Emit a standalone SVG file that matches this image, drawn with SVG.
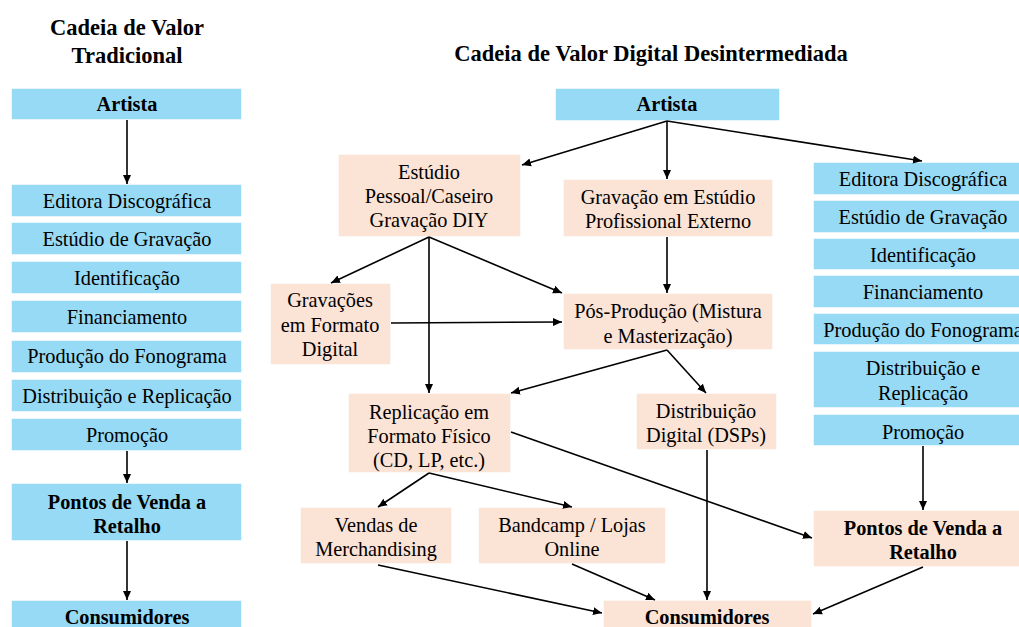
<svg xmlns="http://www.w3.org/2000/svg" width="1019" height="627" viewBox="0 0 1019 627">
  <defs>
    <marker id="arrow" markerUnits="userSpaceOnUse" markerWidth="10" markerHeight="10" refX="9" refY="5" orient="auto">
      <path d="M0,1 L9,5 L0,9 z" fill="#000"/>
    </marker>
    <style>
      text { font-family: "Liberation Serif", "Times New Roman", serif; font-size: 20.3px; fill: #000; text-anchor: middle; }
      .b { font-weight: bold; }
      .title { font-weight: bold; font-size: 22.5px; }
      .blue { fill: #97DAF6; stroke: #ffffff; stroke-width: 1.5; }
      .peach { fill: #FBE3D6; stroke: #ffffff; stroke-width: 1.5; }
      .conn line { stroke: #000; stroke-width: 1.6; marker-end: url(#arrow); }
    </style>
  </defs>
  <rect width="1019" height="627" fill="#ffffff"/>

  <!-- headings -->
  <text class="title" x="127" y="35">Cadeia de Valor</text>
  <text class="title" x="127" y="63">Tradicional</text>
  <text class="title" x="651" y="61">Cadeia de Valor Digital Desintermediada</text>

  <!-- traditional chain -->
  <g id="t-artista"><rect class="blue" x="11" y="88" width="231" height="32"/><text class="b" x="127" y="111">Artista</text></g>
  <g id="t-editora"><rect class="blue" x="11" y="184" width="231" height="33"/><text x="127" y="208">Editora Discográfica</text></g>
  <g id="t-estudio"><rect class="blue" x="11" y="222" width="231" height="33"/><text x="127" y="246">Estúdio de Gravação</text></g>
  <g id="t-ident"><rect class="blue" x="11" y="261" width="231" height="33"/><text x="127" y="285">Identificação</text></g>
  <g id="t-financ"><rect class="blue" x="11" y="300" width="231" height="33"/><text x="127" y="324">Financiamento</text></g>
  <g id="t-producao"><rect class="blue" x="11" y="340" width="231" height="33"/><text x="127" y="363">Produção do Fonograma</text></g>
  <g id="t-distrib"><rect class="blue" x="11" y="379" width="231" height="33"/><text x="127" y="403">Distribuição e Replicação</text></g>
  <g id="t-promocao"><rect class="blue" x="11" y="418" width="231" height="33"/><text x="127" y="442">Promoção</text></g>
  <g id="t-pontos"><rect class="blue" x="11" y="483" width="231" height="58"/><text class="b" x="127" y="509">Pontos de Venda a</text><text class="b" x="127" y="533">Retalho</text></g>
  <g id="t-consum"><rect class="blue" x="11" y="600" width="231" height="32"/><text class="b" x="127" y="624">Consumidores</text></g>

  <!-- disintermediated digital chain -->
  <g id="d-artista"><rect class="blue" x="555" y="88" width="225" height="33"/><text class="b" x="667" y="111">Artista</text></g>
  <g id="d-diy"><rect class="peach" x="338" y="154" width="183" height="83"/><text x="429" y="179">Estúdio</text><text x="429" y="203">Pessoal/Caseiro</text><text x="429" y="227">Gravação DIY</text></g>
  <g id="d-pro"><rect class="peach" x="563" y="179" width="210" height="58"/><text x="668" y="204">Gravação em Estúdio</text><text x="668" y="228">Profissional Externo</text></g>
  <g id="d-digrec"><rect class="peach" x="270" y="283" width="121" height="82"/><text x="330" y="307">Gravações</text><text x="330" y="332">em Formato</text><text x="330" y="356">Digital</text></g>
  <g id="d-pos"><rect class="peach" x="563" y="293" width="210" height="57"/><text x="668" y="318">Pós-Produção (Mistura</text><text x="668" y="343">e Masterização)</text></g>
  <g id="d-replic"><rect class="peach" x="348" y="393" width="163" height="80"/><text x="429" y="419">Replicação em</text><text x="429" y="443">Formato Físico</text><text x="429" y="467">(CD, LP, etc.)</text></g>
  <g id="d-dsp"><rect class="peach" x="636" y="393" width="141" height="57"/><text x="706" y="418">Distribuição</text><text x="706" y="442">Digital (DSPs)</text></g>
  <g id="d-merch"><rect class="peach" x="300" y="507" width="152" height="57"/><text x="376" y="532">Vendas de</text><text x="376" y="556">Merchandising</text></g>
  <g id="d-online"><rect class="peach" x="478" y="507" width="188" height="57"/><text x="572" y="532">Bandcamp / Lojas</text><text x="572" y="556">Online</text></g>
  <g id="d-consum"><rect class="peach" x="603" y="600" width="209" height="32"/><text class="b" x="707" y="624">Consumidores</text></g>

  <!-- label-led chain on the right -->
  <g id="r-editora"><rect class="blue" x="813" y="162" width="220" height="33"/><text x="923" y="186">Editora Discográfica</text></g>
  <g id="r-estudio"><rect class="blue" x="813" y="200" width="220" height="33"/><text x="923" y="224">Estúdio de Gravação</text></g>
  <g id="r-ident"><rect class="blue" x="813" y="238" width="220" height="32"/><text x="923" y="262">Identificação</text></g>
  <g id="r-financ"><rect class="blue" x="813" y="275" width="220" height="33"/><text x="923" y="299">Financiamento</text></g>
  <g id="r-producao"><rect class="blue" x="813" y="313" width="220" height="32"/><text x="923" y="337">Produção do Fonograma</text></g>
  <g id="r-distrib"><rect class="blue" x="813" y="351" width="220" height="57"/><text x="923" y="375">Distribuição e</text><text x="923" y="400">Replicação</text></g>
  <g id="r-promocao"><rect class="blue" x="813" y="414" width="220" height="32"/><text x="923" y="439">Promoção</text></g>
  <g id="r-pontos"><rect class="peach" x="813" y="510" width="220" height="57"/><text class="b" x="923" y="535">Pontos de Venda a</text><text class="b" x="923" y="559">Retalho</text></g>

  <!-- connectors -->
  <g id="connectors" class="conn">
    <line x1="127" y1="120" x2="127" y2="184"/>
    <line x1="127" y1="451" x2="127" y2="483"/>
    <line x1="127" y1="541" x2="127" y2="600"/>

    <line x1="667" y1="121" x2="522" y2="165"/>
    <line x1="667" y1="121" x2="667" y2="179"/>
    <line x1="667" y1="121" x2="922" y2="161"/>
    <line x1="429" y1="237" x2="331" y2="283"/>
    <line x1="429" y1="237" x2="562" y2="293"/>
    <line x1="429" y1="237" x2="429" y2="393"/>
    <line x1="391" y1="323" x2="562" y2="322"/>
    <line x1="667" y1="237" x2="667" y2="293"/>
    <line x1="667" y1="350" x2="511" y2="393"/>
    <line x1="667" y1="350" x2="706" y2="393"/>
    <line x1="511" y1="432" x2="812" y2="538"/>
    <line x1="429" y1="473" x2="378" y2="507"/>
    <line x1="429" y1="473" x2="572" y2="507"/>
    <line x1="378" y1="565" x2="602" y2="613"/>
    <line x1="572" y1="564" x2="655" y2="600"/>
    <line x1="707" y1="450" x2="707" y2="600"/>
    <line x1="923" y1="446" x2="923" y2="510"/>
    <line x1="923" y1="567" x2="813" y2="614"/>
  </g>
</svg>
